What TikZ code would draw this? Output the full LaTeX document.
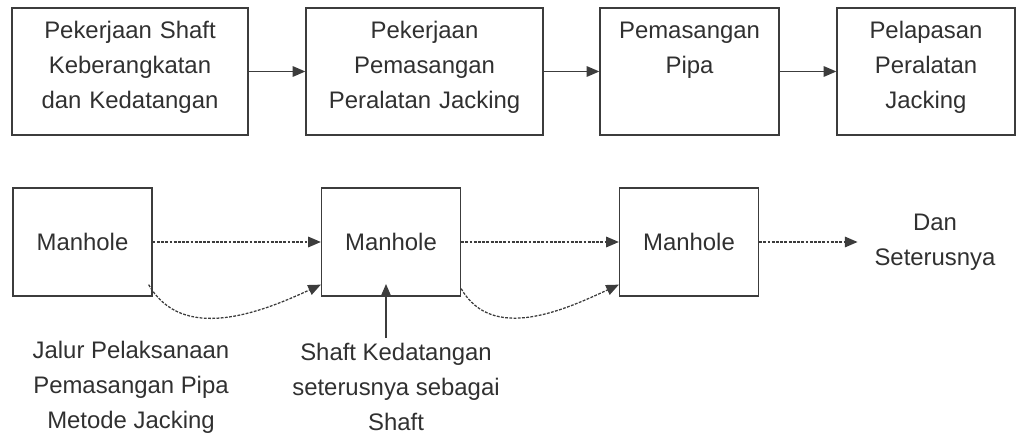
\documentclass[tikz,border=0pt]{standalone}
\usepackage{fontspec}
\setmainfont{Liberation Sans}
\usetikzlibrary{arrows.meta}
\definecolor{LineGray}{HTML}{3C3C3C}
\definecolor{TextGray}{HTML}{303030}
\newcommand{\toptext}[1]{% text at the top of a step box
  \parbox[c][2.9cm][t]{\linewidth}{\centering\strut #1}%
}

\begin{document}
\begin{tikzpicture}[x=0.025cm, y=-0.025cm,
  taskbox/.style={draw=LineGray, line width=0.9pt, text=TextGray, inner sep=0.1375cm,
    font=\fontsize{17}{25}\selectfont},
  holebox/.style={draw=LineGray, line width=0.9pt, text=TextGray, minimum width=3.475cm,
    minimum height=2.7cm, font=\fontsize{17}{25}\selectfont},
  note/.style={text=TextGray, align=center, font=\fontsize{17}{25}\selectfont},
  flow/.style={draw=LineGray, line width=0.9pt, -{Triangle[length=9pt,width=7.5pt]}},
  route/.style={flow, dash pattern=on 2pt off 1pt}]

\useasboundingbox (0,0) rectangle (1017,444);

% Work steps
\node[taskbox, text width=5.625cm] (shaftwork) at (130,71.5) {\toptext{Pekerjaan Shaft\\Keberangkatan\\dan Kedatangan}};
\node[taskbox, text width=5.65cm] (jackset) at (424.5,71.5) {\toptext{Pekerjaan\\Pemasangan\\Peralatan Jacking}};
\node[taskbox, text width=4.2cm] (pipeset) at (689.5,71.5) {\toptext{Pemasangan\\Pipa}};
\node[taskbox, text width=4.175cm] (jackoff) at (926,71.5) {\toptext{Pelapasan\\Peralatan\\Jacking}};

\draw[flow] (shaftwork) -- (jackset);
\draw[flow] (jackset) -- (pipeset);
\draw[flow] (pipeset) -- (jackoff);

% Manholes along the line
\node[holebox] (mh1) at (82.5,242) {Manhole};
\node[holebox] (mh2) at (391,242) {Manhole};
\node[holebox] (mh3) at (689,242) {Manhole};
\node[note] (onward) at (935,242) {Dan\\Seterusnya};

\draw[route] (mh1) -- (mh2);
\draw[route] (mh2) -- (mh3);
\draw[route, shorten >=0.3cm] (mh3) -- (onward);

\draw[route] ([yshift=0.3cm, xshift=-0.1cm]mh1.south east) to[out=-60, in=205] ([yshift=0.3cm]mh2.south west);
\draw[route] ([yshift=0.2cm]mh2.south east) to[out=-60, in=205] ([yshift=0.3cm]mh3.south west);

% Notes below
\node[note] (jalur) at (131,387) {Jalur Pelaksanaan\\Pemasangan Pipa\\Metode Jacking};
\node[note] (nextshaft) at (396,387) {Shaft Kedatangan\\seterusnya sebagai\\Shaft};
\coordinate (shafttip) at (386,284);
\draw[flow] (nextshaft.north -| shafttip) -- (shafttip);

\end{tikzpicture}
\end{document}
